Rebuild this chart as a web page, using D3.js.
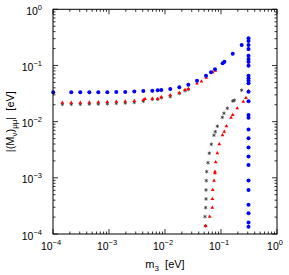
<!DOCTYPE html>
<html>
<head>
<meta charset="utf-8">
<script src="https://cdn.jsdelivr.net/npm/d3@7"></script>
<style>
  body { margin: 0; background: #fff; }
  svg text { font-family: "Liberation Sans", Arial, Helvetica, sans-serif; fill: #000; }
</style>
</head>
<body>
<svg id="chart" width="289" height="275"></svg>
<script>
// m3 [eV] and |(M_nu)_mumu| [eV]

// blue circles
const blueX = [1.01e-4, 2.12e-4, 3.07e-4, 4.45e-4, 6.44e-4, 9.33e-4, 1.35e-3, 1.95e-3, 2.83e-3, 4.10e-3,
  5.93e-3, 7.41e-3, 8.59e-3, 1.24e-2, 1.80e-2, 2.61e-2, 3.73e-2, 5.40e-2, 6.63e-2, 7.81e-2,
  0.107, 0.115, 0.162, 0.234,
  0.31, 0.31, 0.31, 0.31, 0.31, 0.31, 0.31, 0.31, 0.31, 0.31, 0.31, 0.31, 0.31, 0.31,
  0.31, 0.31, 0.31, 0.31, 0.31, 0.31, 0.31, 0.31, 0.31, 0.31, 0.31, 0.31, 0.31];
const blueY = [0.0334, 0.0334, 0.0334, 0.0334, 0.0334, 0.0334, 0.0338, 0.0338, 0.0345, 0.0352,
  0.0356, 0.0362, 0.0366, 0.0382, 0.0409, 0.0455, 0.0537, 0.0656, 0.0757, 0.0856,
  0.109, 0.116, 0.161, 0.232,
  0.305, 0.273, 0.232, 0.196, 0.149, 0.130, 0.117, 0.0992, 0.0659, 0.0592, 0.0537, 0.0482, 0.0342, 0.0231,
  0.01316, 0.01178, 0.00726, 0.00507, 0.00348, 0.00240, 0.00170, 8.92e-4, 6.09e-4, 3.30e-4, 2.35e-4, 1.61e-4, 1.34e-4];

// red triangles
const redX = [1.47e-4, 2.12e-4, 3.07e-4, 4.45e-4, 6.44e-4, 9.33e-4, 1.35e-3, 1.95e-3, 2.83e-3, 4.10e-3,
  4.40e-3, 5.93e-3, 7.41e-3, 8.59e-3, 1.24e-2, 1.80e-2, 2.28e-2, 2.61e-2, 3.73e-2, 4.49e-2, 5.46e-2, 7.11e-2, 7.91e-2,
  0.31, 0.31, 0.31, 0.31, 0.31,
  0.279, 0.250, 0.195, 0.162, 0.151, 0.125, 0.1146, 0.1064, 0.0933, 0.0860, 0.0804, 0.0781, 0.0781,
  0.0750, 0.0711, 0.0700, 0.0700, 0.0628, 0.0533];
const redY = [0.0218, 0.0218, 0.0218, 0.0220, 0.0222, 0.0224, 0.0227, 0.0230, 0.0233, 0.0243,
  0.0254, 0.0257, 0.0254, 0.0272, 0.0295, 0.0324, 0.0366, 0.0382, 0.0478, 0.0519, 0.0606, 0.0757, 0.0808,
  0.193, 0.117, 0.106, 0.0559, 0.0352,
  0.0264, 0.0227, 0.0173, 0.01315, 0.01177, 0.00828, 0.00664, 0.00575, 0.00396, 0.00274, 0.00190, 0.00129, 0.00121,
  8.92e-4, 6.09e-4, 4.21e-4, 2.95e-4, 2.04e-4, 1.39e-4];

// black stars
const blackX = [1.47e-4, 2.12e-4, 3.07e-4, 4.45e-4, 6.44e-4, 9.33e-4, 1.35e-3, 1.95e-3, 2.83e-3, 4.10e-3,
  5.93e-3, 7.41e-3, 8.59e-3, 1.24e-2, 1.80e-2, 2.28e-2, 2.61e-2,
  0.234, 0.173, 0.162, 0.1296, 0.113, 0.1055, 0.0860, 0.0791, 0.0750, 0.0671, 0.0618, 0.0586,
  0.0555, 0.0546, 0.0540, 0.0540, 0.0533, 0.0518, 0.0525];
const blackY = [0.0204, 0.0204, 0.0204, 0.0206, 0.0206, 0.0208, 0.0212, 0.0215, 0.0220, 0.0231,
  0.0250, 0.0250, 0.0267, 0.0279, 0.0318, 0.0356, 0.0374,
  0.0363, 0.0240, 0.0233, 0.0173, 0.0141, 0.01193, 0.00828, 0.00664, 0.00573, 0.00396, 0.00274, 0.00186,
  0.00129, 8.92e-4, 6.09e-4, 4.21e-4, 2.95e-4, 2.04e-4, 1.39e-4];

const xTicks = [-4, -3, -2, -1, 0];   // exponents
const yTicks = [0, -1, -2, -3, -4];

const svg = d3.select('#chart');
const mLeft = 53, mRight = 277, mTop = 9.3, mBottom = 234;

const x = d3.scaleLog().domain([1e-4, 1]).range([mLeft, mRight]);
const y = d3.scaleLog().domain([1e-4, 1]).range([mBottom, mTop]);

// minor + major ticks on all four sides
const minors = [];
for (let e = -4; e < 0; e++) for (let k = 2; k <= 9; k++) minors.push(k * Math.pow(10, e));
const majors = xTicks.map(e => Math.pow(10, e));

const tickG = svg.append('g').attr('stroke', '#000').attr('stroke-width', 0.8);
function ticks(vals, len) {
  vals.forEach(v => {
    const px = x(v), py = y(v);
    tickG.append('line').attr('x1', px).attr('x2', px).attr('y1', mBottom).attr('y2', mBottom - len);
    tickG.append('line').attr('x1', px).attr('x2', px).attr('y1', mTop).attr('y2', mTop + len);
    tickG.append('line').attr('x1', mLeft).attr('x2', mLeft + len).attr('y1', py).attr('y2', py);
    tickG.append('line').attr('x1', mRight).attr('x2', mRight - len).attr('y1', py).attr('y2', py);
  });
}
ticks(minors, 2.5);
ticks(majors, 5);

// tick labels
xTicks.forEach(e => {
  const t = svg.append('text')
    .attr('x', x(Math.pow(10, e)) - 2)
    .attr('y', 250)
    .attr('text-anchor', 'middle')
    .style('font-size', '10.5px');
  t.append('tspan').text('10');
  t.append('tspan').attr('dy', -5).style('font-size', '7.5px').text(e === 0 ? '0' : '\u2212' + (-e));
});
yTicks.forEach(e => {
  const t = svg.append('text')
    .attr('x', 42)
    .attr('y', y(Math.pow(10, e)) + 5.5)
    .attr('text-anchor', 'end')
    .style('font-size', '10.5px');
  t.append('tspan').text('10');
  t.append('tspan').attr('dy', -5).style('font-size', '7.5px').text(e === 0 ? '0' : '\u2212' + (-e));
});

// axis titles
const xl = svg.append('text')
  .attr('x', (mLeft + mRight) / 2)
  .attr('y', 268)
  .attr('text-anchor', 'middle')
  .style('font-size', '11px');
xl.append('tspan').text('m');
xl.append('tspan').attr('dy', 3).style('font-size', '8px').text('3');
xl.append('tspan').attr('dy', -3).text('\u00a0\u00a0[eV]');

const yl = svg.append('text')
  .attr('transform', `translate(14,${(mTop + mBottom) / 2}) rotate(-90)`)
  .attr('text-anchor', 'middle')
  .style('font-size', '11px');
yl.append('tspan').text('|(M');
yl.append('tspan').attr('dy', 3).style('font-size', '8px').text('\u03bd');
yl.append('tspan').attr('dy', -3).text(')');
yl.append('tspan').attr('dy', 3).style('font-size', '8px').text('\u03bc\u03bc');
yl.append('tspan').attr('dy', -3).text('|\u00a0\u00a0[eV]');

// points
const black = blackX.map((v, i) => [v, blackY[i]]);
const red = redX.map((v, i) => [v, redY[i]]);
const blue = blueX.map((v, i) => [v, blueY[i]]);

svg.append('g').selectAll('path').data(black).join('path')
  .attr('d', d3.symbol(d3.symbolAsterisk, 9))
  .attr('transform', d => `translate(${x(d[0])},${y(d[1])})`)
  .attr('fill', 'none')
  .attr('stroke', '#333')
  .attr('stroke-width', 0.8);

svg.append('g').selectAll('path').data(red).join('path')
  .attr('d', d3.symbol(d3.symbolTriangle, 6))
  .attr('transform', d => `translate(${x(d[0])},${y(d[1])})`)
  .attr('fill', '#f00');

svg.append('g').selectAll('circle').data(blue).join('circle')
  .attr('cx', d => x(d[0]))
  .attr('cy', d => y(d[1]))
  .attr('r', 2)
  .attr('fill', '#0000ff');

// frame
svg.append('rect')
  .attr('x', mLeft).attr('y', mTop)
  .attr('width', mRight - mLeft).attr('height', mBottom - mTop)
  .attr('fill', 'none').attr('stroke', '#000').attr('stroke-width', 1);
</script>
</body>
</html>
